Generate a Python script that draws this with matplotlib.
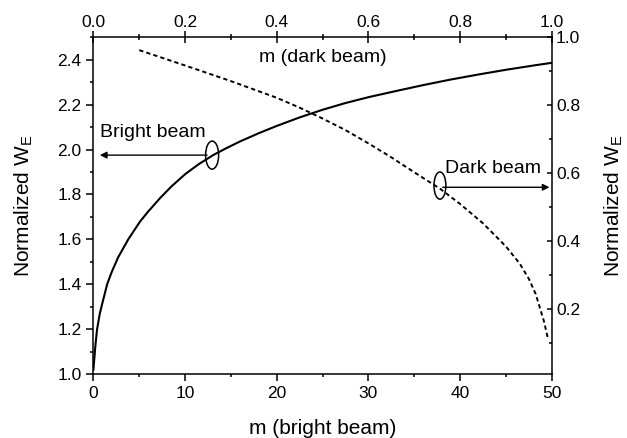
import matplotlib
matplotlib.use("Agg")
import matplotlib.pyplot as plt
from matplotlib.patches import Ellipse

plt.rcParams["font.family"] = ["Liberation Sans", "DejaVu Sans"]
plt.rcParams["mathtext.fontset"] = "custom"
plt.rcParams["mathtext.rm"] = "Liberation Sans"

# bright beam: W_E vs m (bottom / left axes)
m_bright = [0, 0.1, 0.2, 0.4, 0.7, 1.0, 1.5, 2.0, 2.7, 3.8, 5.1, 6.0, 7.3,
            8.5, 10, 11.5, 13.1, 14.5, 16, 18, 20, 22.5, 25, 27.5, 30, 33.4,
            36, 38.9, 42, 45, 48, 50]
w_bright = [1.02, 1.07, 1.12, 1.2, 1.27, 1.32, 1.40, 1.455, 1.52, 1.60, 1.68,
            1.725, 1.785, 1.835, 1.89, 1.935, 1.976, 2.006, 2.036, 2.072,
            2.105, 2.143, 2.177, 2.207, 2.233, 2.264, 2.287, 2.311, 2.334,
            2.355, 2.374, 2.386]

# dark beam: W vs m (top / right axes)
m_dark = [0.1, 0.2, 0.3, 0.4, 0.45, 0.5, 0.55, 0.6, 0.65, 0.7, 0.756, 0.8,
          0.85, 0.9, 0.93, 0.95, 0.965, 0.974, 0.983, 0.991]
w_dark = [0.962, 0.917, 0.871, 0.822, 0.793, 0.761, 0.727, 0.688, 0.647,
          0.603, 0.555, 0.51, 0.453, 0.385, 0.335, 0.29, 0.245, 0.205, 0.165,
          0.118]

bottom_ticks = [0, 10, 20, 30, 40, 50]
left_ticks = [1.0, 1.2, 1.4, 1.6, 1.8, 2.0, 2.2, 2.4]
top_ticks = [0.0, 0.2, 0.4, 0.6, 0.8, 1.0]
right_ticks = [0.2, 0.4, 0.6, 0.8, 1.0]

fig = plt.figure(figsize=(6.27, 4.38), dpi=100)
ax = fig.add_axes([0.149, 0.146, 0.731, 0.769])
ax2 = fig.add_axes(ax.get_position(), frameon=False)

# ── bright beam ───────────────────────────────────────────────────────────
ax.plot(m_bright, w_bright, color="black", lw=1.5)
ax.set_xlim(0, 50)
ax.set_ylim(1.0, 2.5)
ax.set_xticks(bottom_ticks)
ax.set_xticks([5, 15, 25, 35, 45], minor=True)
ax.set_yticks(left_ticks)
ax.set_yticks([1.1, 1.3, 1.5, 1.7, 1.9, 2.1, 2.3, 2.5], minor=True)
ax.set_yticklabels([f"{t:.1f}" for t in left_ticks])
ax.tick_params(which="major", direction="out", length=5, width=1.1, labelsize=12.5)
ax.tick_params(which="minor", direction="out", length=2.5, width=1.1)
for s in ax.spines.values():
    s.set_linewidth(1.1)
ax.set_xlabel("m (bright beam)", fontsize=15, labelpad=13)
ax.set_ylabel(r"Normalized W$_{\mathregular{E}}$", fontsize=15, labelpad=16)

ax.add_patch(Ellipse((12.95, 1.975), 1.42, 0.125, fill=False, lw=1.1))
ax.annotate("", xy=(0.7, 1.975), xytext=(12.4, 1.975),
            arrowprops=dict(arrowstyle="-|>", lw=1.0, color="black",
                            mutation_scale=10, shrinkA=0, shrinkB=0))
ax.text(0.75, 2.056, "Bright beam", fontsize=14, ha="left", va="baseline")

# ── dark beam ─────────────────────────────────────────────────────────────
ax2.plot(m_dark, w_dark, color="black", lw=1.4, dashes=(2.2, 1.6))
ax2.set_xlim(0, 1.0)
ax2.set_ylim(0.01, 1.0)
ax2.xaxis.tick_top()
ax2.yaxis.tick_right()
ax2.xaxis.set_label_position("top")
ax2.yaxis.set_label_position("right")
ax2.set_xticks(top_ticks)
ax2.set_xticks([0.1, 0.3, 0.5, 0.7, 0.9], minor=True)
ax2.set_yticks(right_ticks)
ax2.set_yticks([0.1, 0.3, 0.5, 0.7, 0.9], minor=True)
ax2.set_xticklabels([f"{t:.1f}" for t in top_ticks])
ax2.set_yticklabels([f"{t:.1f}" for t in right_ticks])
ax2.tick_params(axis="x", which="major", direction="inout", length=8, width=1.1,
                labelsize=12.5, pad=1)
ax2.tick_params(axis="x", which="minor", direction="inout", length=5, width=1.1)
ax2.tick_params(axis="y", which="major", direction="in", length=3.6, width=1.1,
                labelsize=12.5, pad=3)
ax2.tick_params(axis="y", which="minor", direction="in", length=2.4, width=1.1)
ax2.set_ylabel(r"Normalized W$_{\mathregular{E}}$", fontsize=15, labelpad=16)
ax2.text(0.5, 0.94, "m (dark beam)", transform=ax2.transAxes, fontsize=14,
         ha="center", va="center")

ax2.add_patch(Ellipse((0.756, 0.564), 0.026, 0.08, fill=False, lw=1.1))
ax2.annotate("", xy=(0.995, 0.559), xytext=(0.762, 0.559),
             arrowprops=dict(arrowstyle="-|>", lw=1.0, color="black",
                             mutation_scale=10, shrinkA=0, shrinkB=0))
ax2.text(0.767, 0.601, "Dark beam", fontsize=14, ha="left", va="baseline")

fig.savefig("out.png", dpi=100)
